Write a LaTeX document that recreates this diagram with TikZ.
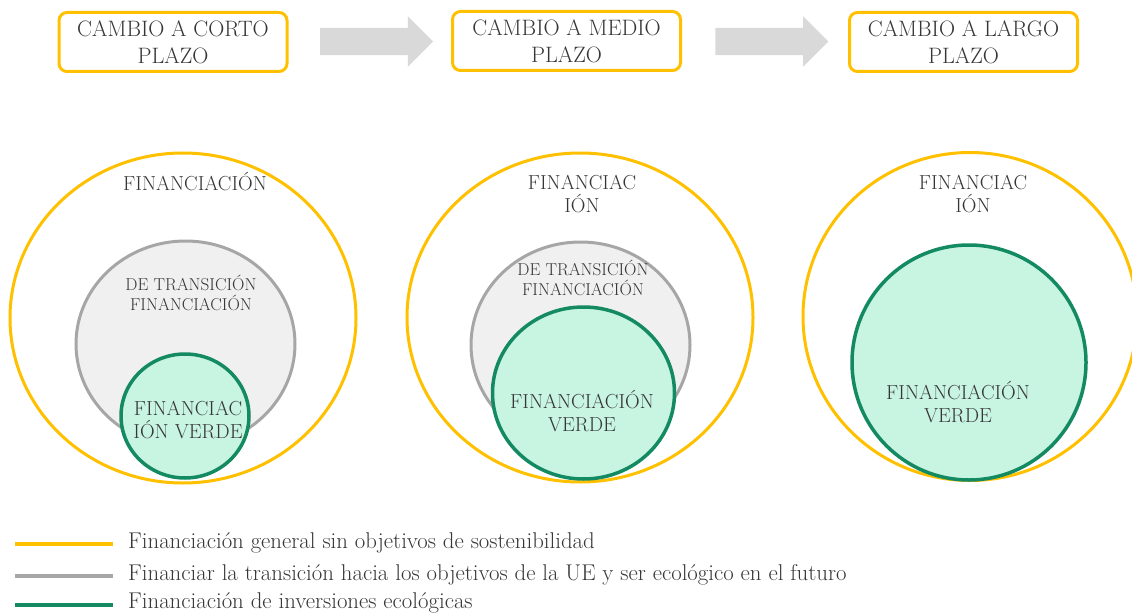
\documentclass[tikz,border=0pt]{standalone}
\usetikzlibrary{shapes.geometric,shapes.arrows,calc}
\definecolor{plazoyellow}{HTML}{FFC000}
\definecolor{transgray}{HTML}{A6A6A6}
\definecolor{transfill}{HTML}{F0F0F0}
\definecolor{verdeline}{HTML}{138A62}
\definecolor{verdefill}{HTML}{C8F4E2}
\definecolor{arrowgray}{HTML}{D9D9D9}
\definecolor{textgray}{HTML}{363636}

\begin{document}
\begin{tikzpicture}[x=1pt,y=-1pt,
    plazobox/.style={draw=plazoyellow,line width=3pt,rounded corners=8pt,minimum width=228pt,minimum height=59pt,inner sep=0pt,align=center,text=textgray,font=\fontsize{22.3}{27}\selectfont},
    flecha/.style={single arrow,fill=arrowgray,minimum height=113pt,inner xsep=0pt,inner ysep=13.5pt,single arrow head extend=11.5pt,single arrow head indent=0pt},
    general/.style={ellipse,draw=plazoyellow,line width=3pt,inner sep=0pt},
    transicion/.style={ellipse,draw=transgray,fill=transfill,line width=3pt,inner sep=0pt},
    verde/.style={ellipse,draw=verdeline,fill=verdefill,line width=3.5pt,inner sep=0pt},
    etiqueta/.style={align=center,text=textgray,inner sep=0pt,font=\fontsize{20.3}{23}\selectfont},
    etiquetat/.style={align=center,text=textgray,inner sep=0pt,font=\fontsize{17.2}{20}\selectfont},
    leyenda/.style={anchor=west,text=textgray,inner sep=0pt,font=\fontsize{22.8}{26}\selectfont}]
    \useasboundingbox (0,0) rectangle (1132,615);
    % plazos
    \node[plazobox] (b1) at (173,42) {CAMBIO A CORTO\\PLAZO};
    \node[plazobox] (b2) at (566.5,41) {CAMBIO A MEDIO\\PLAZO};
    \node[plazobox] (b3) at (963.5,42) {CAMBIO A LARGO\\PLAZO};
    \node[flecha] (f1) at ($(b1.east)!0.5!(b2.west)$) {};
    \node[flecha] (f2) at ($(b2.east)!0.5!(b3.west)$) {};
    % corto plazo
    \node[general,minimum width=346pt,minimum height=330pt] (g1) at (183,318) {};
    \node[transicion,minimum width=219pt,minimum height=206pt] (t1) at (185.5,344) {};
    \node[verde,minimum width=128pt,minimum height=124pt] (v1) at (185,416) {};
    \node[etiqueta] (g1txt) at (195,182) {FINANCIACIÓN};
    \node[etiquetat] (t1txt) at (191,293) {DE TRANSICIÓN\\FINANCIACIÓN};
    \node[etiqueta] (v1txt) at (188,420) {FINANCIAC\\IÓN VERDE};
    % medio plazo
    \node[general,minimum width=346pt,minimum height=329pt] (g2) at (580,317.5) {};
    \node[transicion,minimum width=219pt,minimum height=206pt] (t2) at (580.5,345) {};
    \node[verde,minimum width=182pt,minimum height=172pt] (v2) at (583.5,393) {};
    \node[etiqueta] (g2txt) at (582,194) {FINANCIAC\\IÓN};
    \node[etiquetat] (t2txt) at (583,278) {DE TRANSICIÓN\\FINANCIACIÓN};
    \node[etiqueta] (v2txt) at (582,411.5) {FINANCIACIÓN\\VERDE};
    % largo plazo
    \node[general,minimum width=334pt,minimum height=328pt] (g3) at (970,316.5) {};
    \node[verde,minimum width=234pt,minimum height=235pt] (v3) at (969,362.5) {};
    \node[etiqueta] (g3txt) at (973,194) {FINANCIAC\\IÓN};
    \node[etiqueta] (v3txt) at (958,402.5) {FINANCIACIÓN\\VERDE};
    % leyenda
    \draw[plazoyellow,line width=3.5pt] (15,544) -- (113,544);
    \draw[transgray,line width=3.5pt] (15,576) -- (113,576);
    \draw[verdeline,line width=3.5pt] (15,605) -- (113,605);
    \node[leyenda] (l1) at (128,543) {Financiación general sin objetivos de sostenibilidad};
    \node[leyenda] (l2) at (128,575) {Financiar la transición hacia los objetivos de la UE y ser ecológico en el futuro};
    \node[leyenda] (l3) at (128,603) {Financiación de inversiones ecológicas};
\end{tikzpicture}
\end{document}
